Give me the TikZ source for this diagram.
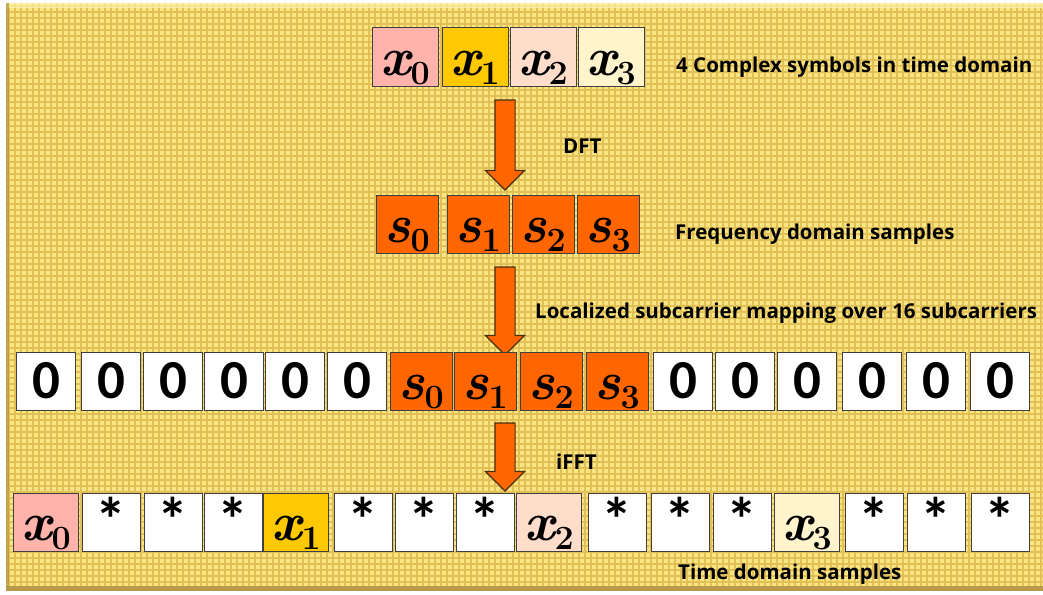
\documentclass[tikz,border=0pt]{standalone}
\usepackage{fontspec}
\usepackage{xcolor}
\usetikzlibrary{shapes.arrows}
\newfontfamily\lblfont{Open Sans}
\newfontfamily\calfont{Carlito}
\definecolor{bgyellow}{HTML}{FAE585}
\definecolor{gridyellow}{HTML}{E2C056}
\definecolor{bevellight}{HTML}{FFF4B0}
\definecolor{beveldark}{HTML}{B89A48}
\definecolor{xpink}{HTML}{FFB3AB}
\definecolor{xgold}{HTML}{FFC800}
\definecolor{xpeach}{HTML}{FFDDCB}
\definecolor{xcream}{HTML}{FFF4CC}
\definecolor{sorange}{HTML}{FF6600}
\definecolor{boxline}{HTML}{404040}
\definecolor{arrowline}{HTML}{4A3010}

% symbol with its index, as in the slide
\newcommand{\symb}[2]{{\bfseries\itshape #1}\raisebox{-9pt}{\fontsize{34}{34}\selectfont\bfseries #2}}

\begin{document}
\begin{tikzpicture}[x=1pt, y=-1pt,
    cell/.style={draw=boxline, line width=1pt, minimum width=#1, minimum height=58,
      inner sep=0pt},
    sym/.style={cell=#1, font=\fontsize{54}{58}\selectfont, text height=36pt, text depth=0pt},
    zero/.style={cell=#1, fill=white, font=\calfont\bfseries\fontsize{55}{60}\selectfont,
      text height=35pt, text depth=0pt},
    star/.style={cell=#1, fill=white, font=\calfont\bfseries\fontsize{62}{66}\selectfont,
      text height=38pt, text depth=0pt},
    arrowdn/.style={single arrow, draw=arrowline, line width=1.2pt, fill=sorange,
      text height=19pt, text depth=0pt, inner sep=0pt, single arrow head extend=9.5pt,
      single arrow head indent=0pt, rotate=-90},
    lbl/.style={font=\lblfont\bfseries\fontsize{20.5}{24}\selectfont, anchor=base west,
      inner sep=0pt},
  ]

  \useasboundingbox (0,0) rectangle (1043,594);

  % ---- background panel
  \fill[bgyellow] (6,3) rectangle (1043,591);
  \foreach \gx in {9,15,...,1041} \draw[gridyellow, line width=2pt] (\gx,3) -- (\gx,591);
  \foreach \gy in {6,12,...,588} \draw[gridyellow, line width=2pt] (6,\gy) -- (1043,\gy);
  \fill[bevellight, opacity=0.7] (6,3) rectangle (1043,8);
  \fill[beveldark, opacity=0.8] (6,3) rectangle (9,591);
  \fill[beveldark] (6,586) rectangle (1043,591);

  % ---- time domain symbols
  \foreach \i/\x/\c in {0/405/xpink, 1/475/xgold, 2/543/xpeach, 3/611/xcream} {
    \node[sym=66, fill=\c] (tx\i) at (\x,57) {\symb{x}{\i}};
  }
  \node[lbl] (l1) at (676,72) {4 Complex symbols in time domain};

  \node[arrowdn, minimum height=90] (a1) at (505,140) {};
  \node[lbl] (l2) at (563,153) {DFT};

  % ---- frequency domain samples
  \foreach \i/\x in {0/407, 1/478, 2/543, 3/608} {
    \node[sym=62, fill=sorange] (fs\i) at (\x,224) {\symb{s}{\i}};
  }
  \node[lbl] (l3) at (675,239) {Frequency domain samples};

  \node[arrowdn, minimum height=88] (a2) at (505,306) {};
  \node[lbl] (l4) at (535,318) {Localized subcarrier mapping over 16 subcarriers};

  % ---- mapping onto 16 subcarriers
  \foreach \i/\x in {1/46, 2/111, 3/173, 4/234, 5/295, 6/357,
                     11/683, 12/745, 13/807, 14/872, 15/936, 16/1000} {
    \node[zero=59] (m\i) at (\x,381) {0};
  }
  \foreach \i/\x/\k in {7/421/0, 8/485/1, 9/551/2, 10/617/3} {
    \node[sym=62, fill=sorange] (m\i) at (\x,381) {\symb{s}{\k}};
  }

  \node[arrowdn, minimum height=68] (a3) at (505,452) {};
  \node[lbl] (l5) at (556,469) {iFFT};

  % ---- time domain samples after iFFT
  \foreach \i/\x in {2/111, 3/173, 4/233, 6/363, 7/424, 8/485,
                     10/617, 11/680, 12/742, 14/874, 15/936, 16/1000} {
    \node[star=58] (t\i) at (\x,522) {*};
  }
  \foreach \i/\x/\k/\c in {1/46/0/xpink, 5/296/1/xgold, 9/549/2/xpeach, 13/807/3/xcream} {
    \node[sym=65, fill=\c] (t\i) at (\x,522) {\symb{x}{\k}};
  }
  \node[lbl] (l6) at (678,579) {Time domain samples};

\end{tikzpicture}
\end{document}
